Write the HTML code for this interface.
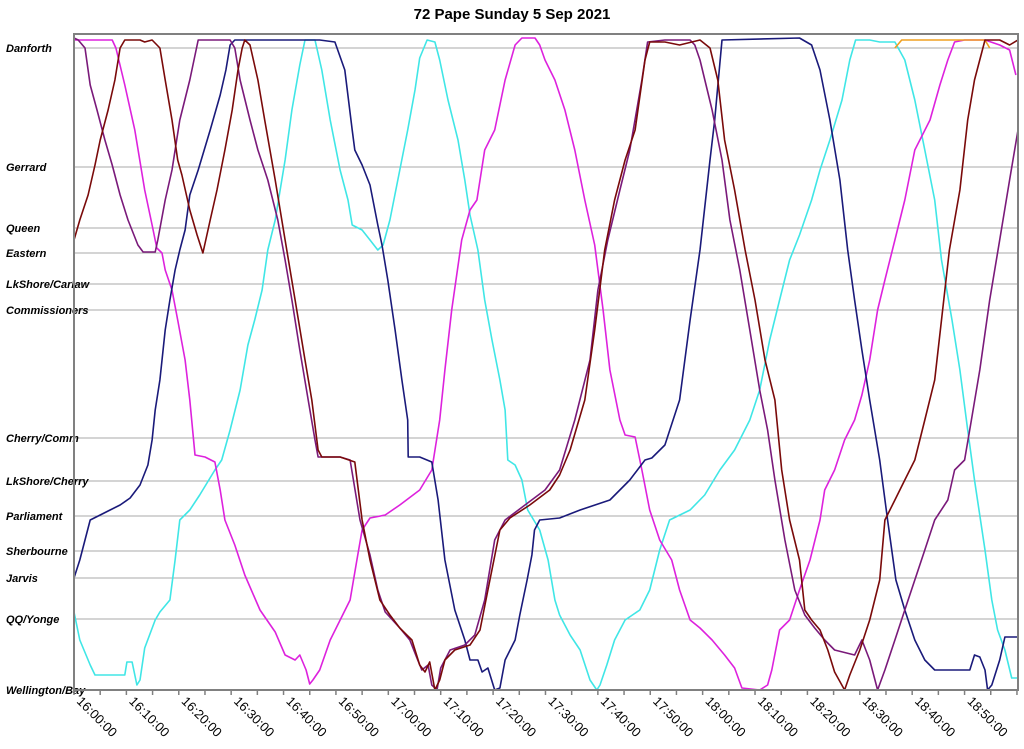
<!DOCTYPE html>
<html><head><meta charset="utf-8"><style>
body{margin:0;background:#fff;}
svg{display:block;font-family:"Liberation Sans",sans-serif;}
</style></head><body>
<svg id="chart" width="1024" height="749" viewBox="0 0 1024 749" xmlns="http://www.w3.org/2000/svg">
<text x="512" y="19" text-anchor="middle" font-size="15" font-weight="bold">72 Pape Sunday 5 Sep 2021</text>
<g id="grid"></g>
<g id="ylab"></g>
<g id="xax"></g>
<g id="series"></g>
<rect x="74" y="34" width="944" height="656" fill="none" stroke="#808080" stroke-width="2"/>
</svg>
<script>
const stopNames=["Danforth","Gerrard","Queen","Eastern","LkShore/Carlaw","Commissioners","Cherry/Comm","LkShore/Cherry","Parliament","Sherbourne","Jarvis","QQ/Yonge","Wellington/Bay"];
const stopDist=[6.42,5.23,4.62,4.37,4.06,3.80,2.52,2.09,1.74,1.39,1.12,0.71,0];
const tickLabels=["16:00:00","16:10:00","16:20:00","16:30:00","16:40:00","16:50:00","17:00:00","17:10:00","17:20:00","17:30:00","17:40:00","17:50:00","18:00:00","18:10:00","18:20:00","18:30:00","18:40:00","18:50:00"];
const magentaT=[0,7.3,8.0,9.7,11.6,13.5,14.9,15.8,16.8,17.4,18.7,19.8,21.2,22.1,23.1,25.0,26.9,27.9,28.8,30.7,32.6,35.5,38.4,40.3,42.2,43.1,44.3,45.0,45.6,46.9,48.9,52.7,54.0,55.0,56.5,59.4,62.2,66.0,68.3,69.8,70.8,72.1,74.0,75.6,76.9,78.4,80.3,82.3,84.2,85.5,88.0,88.9,89.9,91.8,93.7,95.6,97.5,99.4,101.0,102.3,104.2,105.2,107.1,108.4,109.9,111.8,114.1,115.6,117.6,119.5,121.8,124.2,126.1,127.5,130.9,132.4,133.2,134.7,136.6,138.5,140.5,142.4,143.3,145.2,147.1,149.0,150.4,151.9,153.4,154.8,156.7,158.6,160.5,163.4,165.3,166.8,168.1,170.0,173.9,176.7,178.6,179.8];
const magentaD=[6.5,6.5,6.42,6.05,5.6,5.0,4.65,4.42,4.37,4.2,4.0,3.7,3.3,2.9,2.35,2.33,2.28,2.0,1.7,1.45,1.15,0.8,0.58,0.35,0.3,0.35,0.2,0.06,0.1,0.2,0.5,0.9,1.3,1.6,1.72,1.75,1.85,2.0,2.2,2.7,3.2,3.8,4.5,4.8,4.9,5.4,5.6,6.1,6.45,6.52,6.52,6.45,6.3,6.1,5.8,5.4,4.9,4.45,3.8,3.2,2.7,2.55,2.53,2.2,1.8,1.5,1.3,1.0,0.7,0.62,0.5,0.35,0.22,0.02,0,0.05,0.2,0.6,0.7,1.0,1.3,1.7,2.0,2.2,2.5,2.7,2.95,3.3,3.8,4.1,4.5,4.9,5.4,5.7,6.05,6.3,6.48,6.5,6.5,6.45,6.4,6.15];
const cyanT=[0,1.1,3.1,4.0,9.7,10.1,11.1,12.0,12.6,13.5,15.5,16.4,18.3,19.3,20.2,22.1,24.0,26.9,28.2,29.8,31.7,33.2,34.5,35.9,37.0,38.4,40.3,41.6,43.1,44.1,46.0,47.3,48.9,50.8,52.3,53.1,55.0,56.5,58.0,59.0,60.3,62.2,63.7,65.1,66.0,67.4,68.9,69.8,71.4,73.3,74.6,75.6,77.1,78.4,79.8,81.3,82.3,82.8,84.2,85.5,86.6,88.9,90.5,91.8,92.7,94.7,96.6,98.5,99.8,100.4,101.7,103.2,105.2,108.0,109.9,111.8,113.7,117.6,120.4,123.3,126.1,129.0,130.9,132.8,134.7,136.6,138.5,140.8,142.4,144.3,146.6,148.1,149.2,151.9,153.8,156.7,158.6,160.5,162.4,164.3,165.6,167.6,169.1,170.6,171.9,173.9,175.2,176.3,177.7,179.0,180.2];
const cyanD=[0.78,0.5,0.25,0.15,0.15,0.28,0.28,0.05,0.1,0.42,0.7,0.78,0.9,1.3,1.7,1.8,1.95,2.2,2.3,2.6,3.0,3.45,3.7,4.0,4.4,4.7,5.3,5.8,6.25,6.5,6.5,6.2,5.7,5.2,4.9,4.65,4.6,4.5,4.4,4.45,4.7,5.2,5.6,6.0,6.32,6.5,6.48,6.3,5.9,5.5,5.1,4.75,4.4,3.9,3.5,3.1,2.8,2.3,2.25,2.1,1.8,1.6,1.3,0.9,0.75,0.55,0.4,0.1,0,0.05,0.25,0.5,0.7,0.8,1.0,1.4,1.7,1.8,1.95,2.2,2.4,2.7,3.0,3.5,3.9,4.3,4.55,4.9,5.2,5.5,5.9,6.3,6.5,6.5,6.48,6.48,6.3,5.9,5.4,4.9,4.3,3.7,3.2,2.6,2.1,1.4,0.9,0.6,0.4,0.12,0.12];
const navyT=[0,1.1,2.1,3.1,5.0,6.9,8.8,10.7,12.6,14.1,14.9,15.5,16.4,17.4,18.3,19.3,20.2,21.2,22.1,23.7,26.0,27.9,29.0,29.8,30.7,46.9,49.8,51.7,53.1,53.6,55.0,56.5,58.0,58.8,59.9,61.3,62.6,63.7,63.8,66.0,68.3,69.5,70.8,72.7,74.6,75.6,77.1,77.9,79.0,80.3,81.3,82.3,84.2,85.1,86.5,87.4,87.9,88.9,92.7,96.6,102.3,106.1,109.0,110.3,112.8,115.6,117.6,119.5,121.4,122.3,123.7,138.5,140.8,142.4,144.3,146.2,147.7,149.0,150.4,151.9,153.8,155.3,156.9,158.6,160.5,162.4,164.3,171.0,171.9,172.9,173.9,174.4,175.2,176.7,177.7,180.2];
const navyD=[1.12,1.3,1.5,1.7,1.75,1.8,1.85,1.92,2.05,2.25,2.5,2.8,3.1,3.6,3.9,4.2,4.4,4.6,4.95,5.2,5.6,5.95,6.2,6.45,6.5,6.5,6.48,6.2,5.6,5.4,5.25,5.05,4.65,4.45,4.1,3.6,3.1,2.7,2.33,2.33,2.28,1.9,1.3,0.8,0.5,0.3,0.3,0.18,0.22,0,0.02,0.3,0.5,0.75,1.1,1.35,1.6,1.7,1.72,1.8,1.9,2.1,2.3,2.32,2.45,2.9,3.7,4.4,5.3,5.7,6.5,6.52,6.45,6.2,5.7,5.1,4.4,3.9,3.4,2.9,2.3,1.7,1.1,0.8,0.5,0.3,0.2,0.2,0.35,0.33,0.2,0,0.05,0.3,0.53,0.53];
const redT=[0,1.1,2.7,4.0,5.0,6.5,7.8,8.8,9.7,12.6,13.5,14.9,16.4,17.4,18.7,19.8,20.6,22.1,23.5,24.6,26.0,27.3,28.8,30.2,31.3,32.1,32.6,33.6,35.1,36.4,38.4,40.3,42.2,44.1,45.4,46.6,47.3,50.8,53.6,55.0,56.5,58.4,60.3,62.2,64.5,66.0,67.0,67.9,68.9,69.8,70.8,72.7,75.6,77.5,79.4,81.3,83.2,87.0,90.8,92.7,94.7,97.5,99.4,101.3,103.2,105.2,107.1,109.0,109.9,112.8,115.6,119.5,121.4,122.9,124.2,126.1,128.1,130.0,131.9,133.8,135.1,136.6,138.5,139.5,140.8,142.4,143.9,145.2,147.1,148.1,150.0,151.9,153.8,154.8,156.7,158.6,160.5,162.4,164.3,165.6,167.1,169.1,170.6,171.9,173.9,176.7,178.6,180.2];
const redD=[4.5,4.7,4.95,5.25,5.5,5.8,6.1,6.42,6.5,6.5,6.48,6.5,6.42,6.1,5.7,5.3,5.15,4.8,4.55,4.37,4.7,5.0,5.4,5.8,6.2,6.42,6.5,6.45,6.1,5.7,5.1,4.5,3.9,3.3,2.9,2.4,2.33,2.33,2.28,1.7,1.3,0.9,0.75,0.62,0.5,0.25,0.18,0.28,0,0.1,0.3,0.4,0.45,0.6,1.1,1.6,1.72,1.85,2.0,2.15,2.4,2.9,3.6,4.4,4.9,5.3,5.6,6.3,6.48,6.48,6.45,6.5,6.42,6.1,5.5,5.0,4.4,3.9,3.3,2.9,2.2,1.7,1.3,0.8,0.7,0.6,0.4,0.18,0,0.15,0.4,0.7,1.1,1.7,1.9,2.1,2.3,2.7,3.1,3.7,4.4,5.0,5.7,6.1,6.5,6.5,6.45,6.5];
const purpleT=[0,0.8,2.1,3.1,4.4,5.9,7.3,8.8,10.3,12.2,13.2,15.5,16.0,17.4,18.7,20.2,22.1,23.7,29.8,30.7,31.7,33.6,35.1,37.0,38.9,40.3,41.6,43.1,44.7,46.0,46.6,50.8,52.7,54.6,56.5,58.0,59.4,62.2,64.1,65.6,66.4,67.6,68.3,69.3,70.0,71.8,74.6,76.5,78.4,80.3,82.3,86.1,89.9,92.7,95.6,98.5,100.0,101.9,104.2,106.1,108.4,109.5,112.8,117.6,118.5,119.5,121.8,123.7,125.2,127.1,129.0,130.9,132.4,133.8,135.7,137.6,139.5,141.4,143.3,145.2,149.0,150.4,151.9,153.4,154.8,156.7,158.6,160.5,162.4,164.3,166.8,168.1,170.0,171.3,172.9,174.8,176.7,178.6,180.2];
const purpleD=[6.52,6.5,6.42,6.05,5.8,5.5,5.25,4.95,4.7,4.45,4.38,4.38,4.5,4.9,5.2,5.7,6.1,6.5,6.5,6.42,6.1,5.7,5.4,5.1,4.7,4.3,3.9,3.4,2.9,2.5,2.33,2.33,2.3,1.7,1.35,1.0,0.78,0.62,0.5,0.3,0.2,0.25,0.05,0,0.22,0.4,0.45,0.55,0.9,1.5,1.7,1.85,2.0,2.2,2.7,3.3,4.0,4.5,5.0,5.4,6.1,6.48,6.5,6.5,6.45,6.3,5.8,5.3,4.7,4.2,3.6,3.0,2.6,2.1,1.5,1.0,0.75,0.62,0.5,0.4,0.35,0.5,0.3,0,0.2,0.5,0.8,1.1,1.4,1.7,1.9,2.2,2.3,2.7,3.2,3.9,4.5,5.1,5.6];
const orangeT=[156.7,158.0,173.9,174.8];
const orangeD=[6.42,6.5,6.5,6.42];

const NS="http://www.w3.org/2000/svg";
const X0=74,X1=1018,Y0=690,Y1=34,TMAX=180.2,DMAX=6.56;
function xs(t){return X0+t/TMAX*(X1-X0);}
function ys(d){return Y0-d/DMAX*(Y0-Y1);}
function mk(tag,parent){const e=document.createElementNS(NS,tag);parent.appendChild(e);return e;}

const grid=document.getElementById('grid'),ylab=document.getElementById('ylab');
stopNames.forEach((n,i)=>{
  const y=ys(stopDist[i]);
  const l=mk('line',grid);
  
  
  l.setAttribute('x1',X0);l.setAttribute('x2',X1);l.setAttribute('y1',y);l.setAttribute('y2',y);
  l.setAttribute('stroke','#a8a8a8');l.setAttribute('stroke-width','1');
  const t=mk('text',ylab);
  
  
  t.setAttribute('x',6);t.setAttribute('y',y+4);
  t.setAttribute('font-size','11');t.setAttribute('font-weight','bold');t.setAttribute('font-style','italic');
  t.textContent=n;
});
const xax=document.getElementById('xax');
for(let m=0;m<=180;m+=5){
  const x=xs(m);
  const tk=mk('line',xax);
  
  
  tk.setAttribute('x1',x);tk.setAttribute('x2',x);tk.setAttribute('y1',Y0);tk.setAttribute('y2',Y0+5);
  tk.setAttribute('stroke','#808080');tk.setAttribute('stroke-width','1.5');
}
tickLabels.forEach((lab,i)=>{
  const x=xs(i*10)+2,y=Y0+12;
  const t=mk('text',xax);
  
  
  t.setAttribute('x',x);t.setAttribute('y',y);t.setAttribute('font-size','13');
  t.setAttribute('transform','rotate(45 '+x+' '+y+')');
  t.textContent=lab;
});
const sg=document.getElementById('series');
function line(T,D,color,name){
  const n=Math.min(T.length,D.length);let d='';
  for(let i=0;i<n;i++)d+=(i?'L':'M')+xs(T[i]).toFixed(1)+' '+ys(D[i]).toFixed(1);
  const p=mk('path',sg);
  
  
  p.setAttribute('d',d);p.setAttribute('fill','none');p.setAttribute('stroke',color);
  p.setAttribute('stroke-width','1.6');p.setAttribute('stroke-linejoin','round');
}
line(cyanT,cyanD,'#40e6e6','series-cyan');
line(magentaT,magentaD,'#dd22dd','series-magenta');
line(orangeT,orangeD,'#f0a020','series-orange');
line(navyT,navyD,'#1a1a7a','series-navy');
line(purpleT,purpleD,'#7a1a7a','series-purple');
line(redT,redD,'#7a0a0a','series-darkred');
</script>
</body></html>
